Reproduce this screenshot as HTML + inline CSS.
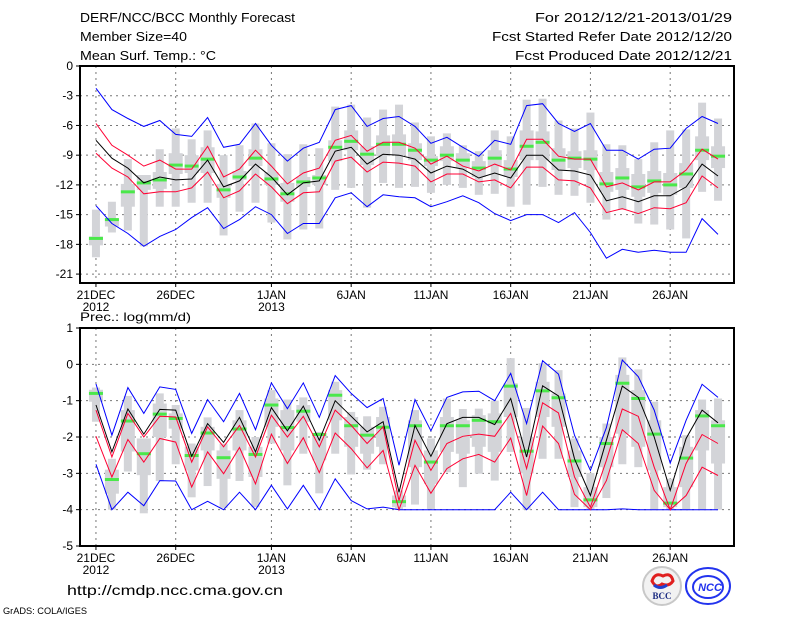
<!DOCTYPE html>
<html><head><meta charset="utf-8"><style>
html,body{margin:0;padding:0;background:#fff;}
svg{display:block;font-family:"Liberation Sans",sans-serif;}
</style></head><body>
<svg id="chart" width="800" height="618" viewBox="0 0 800 618" xmlns="http://www.w3.org/2000/svg">
<rect width="800" height="618" fill="#fff"/>
<g font-size="13" fill="#000">
<text x="80" y="22" textLength="215" lengthAdjust="spacingAndGlyphs">DERF/NCC/BCC Monthly Forecast</text>
<text x="80" y="41" textLength="107" lengthAdjust="spacingAndGlyphs">Member Size=40</text>
<text x="80" y="60" textLength="136" lengthAdjust="spacingAndGlyphs">Mean Surf. Temp.: °C</text>
<text x="535" y="22" textLength="197" lengthAdjust="spacingAndGlyphs">For 2012/12/21-2013/01/29</text>
<text x="492" y="41" textLength="240" lengthAdjust="spacingAndGlyphs">Fcst Started Refer Date 2012/12/20</text>
<text x="515" y="60" textLength="217" lengthAdjust="spacingAndGlyphs">Fcst Produced Date 2012/12/21</text>
<text x="80" y="321" font-size="12" textLength="111" lengthAdjust="spacingAndGlyphs">Prec.: log(mm/d)</text>
<text x="67" y="595" font-size="14" textLength="216" lengthAdjust="spacingAndGlyphs">http://cmdp.ncc.cma.gov.cn</text>
<text x="3" y="614" font-size="9" textLength="84" lengthAdjust="spacingAndGlyphs">GrADS: COLA/IGES</text>
</g>
<g>
<circle cx="662" cy="586" r="19" fill="#f2f2f2" stroke="#c8c8c8" stroke-width="2"/>
<path d="M652 581 q3 -9 11 -5 q8 -4 10 5 q-4 6 -11 3 q-6 5 -10 -3z" fill="none" stroke="#e02020" stroke-width="3"/>
<path d="M654 585 q6 5 13 0" fill="none" stroke="#2040d0" stroke-width="3"/>
<text x="662" y="599" font-size="9" font-weight="bold" fill="#1a2a80" text-anchor="middle" font-family="Liberation Serif, serif">BCC</text>
</g>
<g>
<ellipse cx="708" cy="586" rx="22" ry="18" fill="none" stroke="#2233ee" stroke-width="2"/>
<ellipse cx="708" cy="587" rx="15" ry="11" fill="none" stroke="#2233ee" stroke-width="2"/>
<text x="710" y="591" font-size="11" font-style="italic" font-weight="bold" fill="#2233ee" text-anchor="middle">NCC</text>
</g>
<g id="plots"></g>
</svg>
<script>
// ===== Temperature panel data (deg C) =====
const days = ["21DEC","22DEC","23DEC","24DEC","25DEC","26DEC","27DEC","28DEC","29DEC","30DEC","31DEC","1JAN","2JAN","3JAN","4JAN","5JAN","6JAN","7JAN","8JAN","9JAN","10JAN","11JAN","12JAN","13JAN","14JAN","15JAN","16JAN","17JAN","18JAN","19JAN","20JAN","21JAN","22JAN","23JAN","24JAN","25JAN","26JAN","27JAN","28JAN","29JAN"];
const xTickIdx = [0,5,11,16,21,26,31,36];
const xTickLabels = ["21DEC","26DEC","1JAN","6JAN","11JAN","16JAN","21JAN","26JAN"];
const tBlueTop = [-2.25,-4.4,-5.3,-6.1,-5.5,-6.9,-7.1,-5.2,-8.2,-7.9,-5.8,-8,-9.6,-8.3,-7.7,-4.4,-4,-6.1,-5.3,-5.1,-6.1,-7.8,-7.2,-8.2,-9.1,-7.5,-7.9,-4,-3.8,-5.8,-6.6,-5.8,-8.5,-8.5,-9.4,-8.4,-8.3,-6.3,-5.1,-5.8];
const tRedTop = [-5.8,-8,-9,-10.1,-9.5,-10.4,-10.4,-8.1,-11.2,-10.4,-8.5,-10.1,-11.9,-10.8,-10.3,-7.5,-7,-8.6,-7.7,-7.7,-8.3,-9.9,-9.1,-10.1,-10.6,-9.9,-10.5,-7.4,-7.4,-9.1,-9.4,-9.4,-12.2,-11.8,-12.5,-11.7,-11.7,-10.5,-8.4,-9.4];
const tMean = [-7.5,-9.3,-10.3,-11.8,-11.2,-11.5,-11.4,-9.5,-12.2,-11.6,-9.9,-11.2,-13,-11.8,-11.6,-8.6,-8.2,-9.9,-8.9,-9,-9.4,-10.8,-10.1,-10.4,-11.3,-10.8,-11.3,-9,-9,-10.5,-10.6,-11,-13.6,-13.2,-13.7,-13.1,-13.1,-12.2,-9.9,-11.1];
const tRedBot = [-8.8,-10.3,-11.2,-12.9,-12.7,-12.7,-12.3,-10.7,-13.3,-12.6,-10.9,-12.2,-13.9,-12.8,-12.7,-9.6,-9.2,-10.7,-9.7,-9.8,-10.1,-11.7,-10.9,-10.9,-11.7,-11.5,-12.3,-10.2,-10.2,-11.5,-11.6,-12.3,-14.8,-14.4,-14.9,-14.3,-14.4,-13.8,-11.1,-12.3];
const tBlueBot = [-14.1,-15.9,-16.9,-18.2,-17.2,-16.5,-15.3,-14.3,-16.4,-15.5,-14.2,-15,-16.9,-15.9,-15.9,-13.3,-12.8,-14.2,-13,-13.2,-13.3,-14.2,-13.7,-13.1,-13.8,-14.9,-15.6,-15,-15,-15.8,-14.8,-16.8,-19.4,-18.5,-18.8,-18.6,-18.8,-18.8,-15.4,-17];
const tObs = [-17.4,-15.5,-12.7,-11.8,-11.5,-10,-10.1,-9.4,-12.5,-11.2,-9.3,-11.4,-12.9,-11.7,-11.3,-8.2,-7.6,-8.9,-7.9,-7.9,-8.5,-9.5,-9,-9.5,-10.3,-9.3,-10.4,-8.1,-7.7,-9.5,-9.3,-9.4,-11.9,-11.3,-12.2,-11.6,-12,-10.9,-8.5,-9.1];
const tWhiskTop = [-14.5,-13.7,-9.4,-11.2,-8.4,-6.3,-7.4,-6.5,-9,-8,-5.8,-7.8,-8.9,-7.9,-8.3,-4.1,-3.9,-5.2,-4.4,-3.9,-5.7,-7.1,-6.8,-8,-8.6,-6.5,-7.1,-3.4,-3.3,-5.5,-6.3,-4.7,-7.9,-8,-9.4,-7.7,-6.5,-6.4,-3.7,-5.3];
const tWhiskBot = [-19.3,-16.8,-16.6,-18.2,-14.2,-14.2,-13.8,-13.8,-17.1,-14.7,-13.8,-15.8,-17.5,-16.5,-16.4,-12.5,-12.3,-14.3,-11.8,-12.3,-12.2,-12.8,-12,-12.3,-13,-12.9,-14.2,-14,-12.2,-13,-13.1,-13.8,-15.5,-14.5,-15.9,-16,-16.5,-17.4,-12.7,-13.6];
const tBoxTop = [-17.2,-15.4,-11.9,-11,-10.7,-8.8,-9,-8.2,-11.9,-10.6,-8.4,-10.7,-11.8,-11.2,-11,-7.5,-6.5,-8.1,-7,-6.9,-7.8,-9.1,-8.1,-8.8,-9.6,-8.5,-9.5,-6.5,-6.6,-8.3,-8.6,-8.5,-10.7,-10.3,-10.9,-10.6,-10.8,-9.8,-7.1,-8.1];
const tBoxBot = [-18.1,-16.2,-14.2,-12.5,-12.4,-10.9,-10.8,-10.8,-13.3,-11.5,-10.1,-12,-13.7,-12.2,-12,-9.6,-8.5,-10,-9.1,-9,-9.5,-10.1,-9.6,-10.3,-11.2,-10.1,-11.2,-9.5,-9.5,-10.5,-10.3,-10.5,-12.7,-12.5,-13.2,-12.8,-13,-12.3,-9.5,-10.3];
const tYTicks = [0,-3,-6,-9,-12,-15,-18,-21];
const tYLabels = ["0","-3","-6","-9","-12","-15","-18","-21"];

// ===== Precipitation panel data (log mm/d) =====
const pBlueTop = [-0.54,-1.95,-0.64,-1.35,-0.62,-0.69,-1.9,-0.97,-1.58,-0.8,-1.8,-0.51,-1.22,-0.51,-1.46,-0.31,-0.8,-1.19,-0.94,-2.78,-0.97,-1.83,-0.91,-0.76,-0.74,-1,-0.25,-1.63,0.1,-0.27,-1.95,-2.92,-1.74,0.12,-0.34,-1.26,-2.72,-1.54,-0.55,-0.91];
const pRedTop = [-1.26,-2.55,-1.35,-2,-1.43,-1.45,-2.69,-1.72,-2.27,-1.68,-2.55,-1.4,-2,-1.43,-2.27,-1.26,-1.68,-2.18,-1.72,-3.75,-2.09,-2.92,-2.18,-1.98,-1.92,-1.98,-1.35,-2.87,-1.06,-1.34,-3.1,-3.93,-2.64,-1.23,-1.43,-2.83,-4,-2.73,-1.93,-2.18];
const pMean = [-1.12,-2.41,-1.23,-1.92,-1.24,-1.26,-2.53,-1.63,-2.15,-1.46,-2.41,-1.19,-1.83,-1.15,-2.09,-1,-1.43,-1.86,-1.58,-3.52,-1.68,-2.53,-1.63,-1.46,-1.46,-1.66,-0.94,-2.55,-0.59,-0.87,-2.6,-3.61,-2.09,-0.6,-0.91,-2,-3.47,-2.04,-1.26,-1.61];
const pRedBot = [-1.98,-3.1,-2.07,-2.69,-2.04,-2.14,-3.38,-2.41,-3.01,-2.29,-3.29,-1.92,-2.73,-2.02,-2.98,-1.89,-2.32,-2.85,-2.37,-4,-2.78,-3.55,-2.87,-2.6,-2.48,-2.69,-2.03,-3.61,-1.7,-2.18,-3.58,-4,-3.2,-1.8,-2.18,-3.47,-4,-3.61,-2.83,-3.06];
const pBlueBot = [-2.75,-4,-3.52,-3.89,-3.2,-3.21,-4,-3.77,-4,-3.52,-4,-3.33,-3.98,-3.33,-4,-3.15,-3.75,-3.98,-3.93,-4,-4,-4,-4,-4,-4,-4,-3.52,-4,-3.52,-4,-4,-4,-4,-3.98,-4,-4,-4,-4,-4,-4];
const pObs = [-0.8,-3.17,-1.56,-2.46,-1.37,-1.49,-2.51,-1.89,-2.57,-1.78,-2.48,-1.12,-1.74,-1.29,-1.93,-0.85,-1.69,-1.95,-1.73,-3.78,-1.69,-2.69,-1.69,-1.69,-1.54,-1.58,-0.6,-2.39,-0.73,-0.92,-2.66,-3.73,-2.18,-0.52,-0.94,-1.92,-3.82,-2.58,-1.42,-1.69];
const pWhiskTop = [-0.64,-2.6,-0.87,-2.04,-0.8,-1.12,-2.18,-1.46,-2.18,-1.26,-2,-0.71,-0.97,-0.91,-1.86,-0.48,-1.31,-1.43,-1.17,-3.47,-1.26,-2.04,-0.94,-1.23,-1.22,-1,0.17,-1.2,0.03,-0.16,-2.04,-2.99,-1.63,0.19,-0.14,-1.03,-3.15,-1.95,-0.97,-0.94];
const pWhiskBot = [-1.58,-4,-2.95,-4.1,-3.21,-2.75,-3.66,-3.35,-3.95,-3.21,-3.93,-2.18,-3.33,-2.46,-3.55,-2.46,-3.03,-2.9,-2.75,-4,-3.86,-3.98,-2.97,-3.38,-3.01,-3.2,-2.41,-4,-2.6,-2.6,-3.93,-4,-3.68,-2.75,-2.83,-4,-4,-4,-4,-4];
const pBoxTop = [-0.7,-2.9,-1.26,-2.04,-1.08,-1.35,-2.27,-1.72,-2.37,-1.54,-2.27,-0.94,-1.26,-1.12,-1.95,-0.71,-1.45,-1.72,-1.45,-3.61,-1.54,-2.37,-1.45,-1.54,-1.4,-1.35,-0.52,-2,-0.48,-0.8,-2.37,-3.38,-2,-0.29,-0.71,-1.54,-3.38,-2.27,-1.26,-1.54];
const pBoxBot = [-1.03,-3.56,-2.4,-3.05,-2,-1.77,-2.92,-2.37,-3.15,-2.37,-3.1,-1.72,-2.37,-1.58,-2.64,-1.54,-2.27,-2.46,-2.27,-3.93,-2.83,-3.29,-2.41,-2.46,-2.27,-2.41,-1.45,-3,-1.45,-1.72,-3.1,-3.93,-2.83,-1.91,-2.27,-2.92,-3.93,-3.38,-2.37,-2.73];
const pYTicks = [1,0,-1,-2,-3,-4,-5];
const pYLabels = ["1","0","-1","-2","-3","-4","-5"];

const NS = "http://www.w3.org/2000/svg";
const root = document.getElementById("plots");
function mk(tag, attrs, parent){
  const e = document.createElementNS(NS, tag);
  for (const k in attrs) e.setAttribute(k, attrs[k]);
  (parent || root).appendChild(e);
  return e;
}
function xScale(i){ return 80 + (i + 1) * (654 / 41); }

function drawPanel(cfg){
  const g = mk("g", {});
  
  
  const y = v => cfg.top + (cfg.vmax - v) * (cfg.bottom - cfg.top) / (cfg.vmax - cfg.vmin);
  cfg.yTicks.forEach((v, k) => {
    const yy = y(v);
    if (v !== cfg.vmax && v !== cfg.vmin) {
      const gl = mk("line", {x1:80, x2:734, y1:yy, y2:yy, stroke:"#777", "stroke-width":1, "stroke-dasharray":"2,4"}, g);
      
      
    }
    const tk = mk("line", {x1:76, x2:80, y1:yy, y2:yy, stroke:"#000"}, g);
    
    
    const t = mk("text", {x:73, y:yy + 4, "font-size":12, "text-anchor":"end"}, g);
    
    
    t.textContent = cfg.yLabels[k];
  });
  xTickIdx.forEach((d, k) => {
    const xx = xScale(d);
    const gl = mk("line", {x1:xx, x2:xx, y1:cfg.top, y2:cfg.bottom, stroke:"#777", "stroke-width":1, "stroke-dasharray":"2,4"}, g);
    
    
    const tk = mk("line", {x1:xx, x2:xx, y1:cfg.bottom, y2:cfg.bottom + 4, stroke:"#000"}, g);
    
    
    const t = mk("text", {x:xx, y:cfg.bottom + 16, "font-size":12, "text-anchor":"middle"}, g);
    
    
    t.textContent = xTickLabels[k];
    if (k === 0 || k === 2) {
      const yr = mk("text", {x:xx, y:cfg.bottom + 28, "font-size":12, "text-anchor":"middle"}, g);
      
      
      yr.textContent = k === 0 ? "2012" : "2013";
    }
  });
  days.forEach((d, i) => {
    const xx = xScale(i);
    const w = mk("rect", {x:xx - 4, y:y(cfg.wt[i]), width:8, height:Math.max(1, y(cfg.wb[i]) - y(cfg.wt[i])), fill:"#d3d4d8"}, g);
    
    
    const b = mk("rect", {x:xx - 7, y:y(cfg.bt[i]), width:14, height:Math.max(1, y(cfg.bb[i]) - y(cfg.bt[i])), fill:"#d3d4d8"}, g);
    
    
  });
  days.forEach((d, i) => {
    const xx = xScale(i);
    const m = mk("rect", {x:xx - 7, y:y(cfg.obs[i]) - 1.5, width:14, height:3, fill:"#4ae84a"}, g);
    
    
  });
  const series = [[cfg.bt2, "#0000ff", "upper-bound-line"], [cfg.bb2, "#0000ff", "lower-bound-line"], [cfg.rt, "#ff0033", "upper-spread-line"], [cfg.rb, "#ff0033", "lower-spread-line"], [cfg.mean, "#000", "ensemble-mean-line"]];
  series.forEach(s => {
    const pts = s[0].map((v, i) => xScale(i).toFixed(1) + "," + y(v).toFixed(1)).join(" ");
    const pl = mk("polyline", {points:pts, fill:"none", stroke:s[1], "stroke-width":1}, g);
    
    
  });
  const fr = mk("rect", {x:80, y:cfg.top, width:654, height:cfg.bottom - cfg.top, fill:"none", stroke:"#000", "stroke-width":2}, g);
  
  
}

drawPanel({name:"temperature-panel", top:66, bottom:283, vmax:0, vmin:-21.9, yTicks:tYTicks, yLabels:tYLabels,
  wt:tWhiskTop, wb:tWhiskBot, bt:tBoxTop, bb:tBoxBot, obs:tObs, bt2:tBlueTop, bb2:tBlueBot, rt:tRedTop, rb:tRedBot, mean:tMean});
drawPanel({name:"precipitation-panel", top:328, bottom:546, vmax:1, vmin:-5, yTicks:pYTicks, yLabels:pYLabels,
  wt:pWhiskTop, wb:pWhiskBot, bt:pBoxTop, bb:pBoxBot, obs:pObs, bt2:pBlueTop, bb2:pBlueBot, rt:pRedTop, rb:pRedBot, mean:pMean});
</script>
</body></html>
